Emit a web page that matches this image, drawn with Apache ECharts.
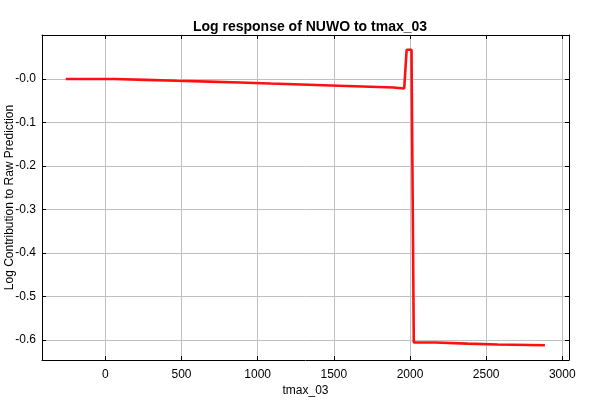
<!DOCTYPE html>
<html>
<head>
<meta charset="utf-8">
<script src="https://cdn.jsdelivr.net/npm/echarts@6/dist/echarts.min.js"></script>
<style>
html,body{margin:0;padding:0;background:#fff;}
#chart{width:600px;height:400px;}
</style>
</head>
<body>
<div id="chart"></div>
<script>
// Step-curve breakpoints (tmax_03) and log contribution values
var xValues = [-260, 56, 56, 265, 265, 470, 470, 680, 680, 881, 881, 1082, 1082, 1286, 1286, 1482, 1482, 1689, 1689, 1890, 1890, 1962, 1978, 2010, 2025, 2169, 2169, 2377, 2377, 2575, 2575, 2886];
var yValues = [0.000, 0.000, -0.002, -0.002, -0.004, -0.004, -0.006, -0.006, -0.008, -0.008, -0.0105, -0.0105, -0.0128, -0.0128, -0.015, -0.015, -0.0174, -0.0174, -0.0197, -0.0197, -0.022, -0.022, 0.067, 0.067, -0.6055, -0.6055, -0.608, -0.608, -0.610, -0.610, -0.6117, -0.6117];
var xTicks = [0, 500, 1000, 1500, 2000, 2500, 3000];
var yTicks = [0.0, -0.1, -0.2, -0.3, -0.4, -0.5, -0.6];

var titleText = 'Log response of NUWO to tmax_03';
var xName = 'tmax_03';
var yName = 'Log Contribution to Raw Prediction';

var points = xValues.map(function (x, i) { return [x, yValues[i]]; });

var FONT = 'Liberation Sans, Arial, sans-serif';
var xMin = -416, xMax = 3044, yMin = -0.6456, yMax = 0.101;

function yFmt(v) {
  var r = Math.round(v * 10) / 10;
  return (Math.abs(r) < 1e-9 ? '-0.0' : r.toFixed(1));
}
function xFmt(v) { return String(Math.round(v)); }

var chart = echarts.init(document.getElementById('chart'), null, {renderer: 'canvas'});
function ticks(vals) {
  return {show: true, inside: true, length: 4, customValues: vals, lineStyle: {color: '#000', width: 1}};
}
var axisLineStyle = {show: true, onZero: false, lineStyle: {color: '#000', width: 1}};
chart.setOption({
  animation: false,
  backgroundColor: '#ffffff',
  title: {
    text: titleText,
    left: 305, top: 15, textAlign: 'center',
    textStyle: {fontFamily: FONT, fontSize: 14, fontWeight: 'bold', color: '#000'}
  },
  grid: {left: 42, right: 31, top: 35, bottom: 40, show: false, containLabel: false, outerBoundsMode: 'none'},
  xAxis: [{
    type: 'value', min: xMin, max: xMax,
    name: xName, nameLocation: 'middle', nameGap: 25, nameMoveOverlap: false,
    nameTextStyle: {fontFamily: FONT, fontSize: 12, color: '#000'},
    axisLine: axisLineStyle,
    axisTick: ticks(xTicks),
    axisLabel: {customValues: xTicks, formatter: xFmt, fontFamily: FONT, fontSize: 12, color: '#000', margin: 9},
    splitLine: {show: true, lineStyle: {color: '#c0c0c0', width: 1}}
  }, {
    type: 'value', position: 'top', min: xMin, max: xMax,
    axisLine: axisLineStyle,
    axisTick: ticks(xTicks), axisLabel: {show: false}, splitLine: {show: false}
  }],
  yAxis: [{
    type: 'value', min: yMin, max: yMax,
    name: yName, nameLocation: 'middle', nameGap: 32, nameMoveOverlap: false,
    nameTextStyle: {fontFamily: FONT, fontSize: 12, color: '#000', verticalAlign: 'middle'},
    axisLine: axisLineStyle,
    axisTick: ticks(yTicks),
    axisLabel: {customValues: yTicks, formatter: yFmt, fontFamily: FONT, fontSize: 12, color: '#000', margin: 6},
    splitLine: {show: true, lineStyle: {color: '#c0c0c0', width: 1}}
  }, {
    type: 'value', position: 'right', min: yMin, max: yMax,
    axisLine: axisLineStyle,
    axisTick: ticks(yTicks), axisLabel: {show: false}, splitLine: {show: false}
  }],
  series: [{
    type: 'line', data: points, xAxisIndex: 0, yAxisIndex: 0,
    showSymbol: false, symbol: 'none',
    lineStyle: {color: '#ff1010', width: 2.6},
    z: 5
  }]
});
</script>
</body>
</html>
